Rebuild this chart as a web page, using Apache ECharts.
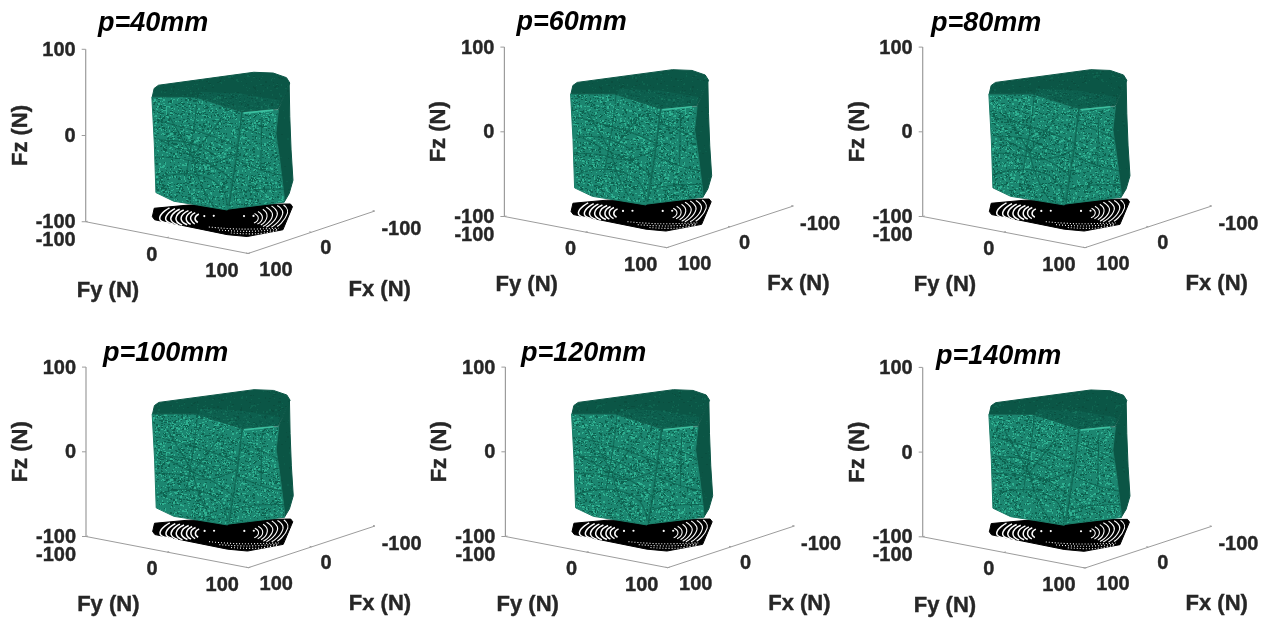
<!DOCTYPE html>
<html><head><meta charset="utf-8">
<style>html,body{margin:0;padding:0;background:#fff;overflow:hidden}#c{width:1273px;height:621px}</style>
<script src="https://cdn.jsdelivr.net/npm/echarts@6/dist/echarts.min.js"></script>
</head><body><div id="c"></div>
<script>
// ---- labels
const panelTitles = ['p=40mm','p=60mm','p=80mm','p=100mm','p=120mm','p=140mm'];
const fzTicks = [100,0,-100];
const fyTicks = [-100,0,100];
const fxTicks = [100,0,-100];

// ---- surface, force values in N
const FACE_LEFT_FX = 75;   // left face lies near Fx = 75
const leftFace = [[-38,50],[16,60],[73,53],[55,-64],[18,-65],[-11,-66],[-33,-60],[-35,-3]]; // [Fy,Fz]
const FACE_RIGHT_FY = 75;  // right faces lie near Fy = 75
const rightFace = [[78,54],[20,42],[24,16],[18,-16],[11,-60],[11,-67],[101,-53]]; // [Fx,Fz]
const sideFace = [[20,42],[7,62],[3,69],[2,30],[0,-9],[-3,-45],[3,-59],[11,-67],[11,-60],[18,-16],[24,16]]; // [Fx,Fz]
const FACE_TOP_FZ = 53;
const topFace = [[82,-32],[57,2],[74,72],[45,94],[-16,57],[-39,43],[-53,28],[-59,7],[-50,-10],[44,-54],[56,-50]]; // [Fx,Fy]
const topFrontBand = [[60,7],[74,72],[45,94],[18,75],[21,29],[39,-6]]; // [Fx,Fy]
const leftVeins = [
  [[-33,-45],[-11,-35],[18,-30],[46,-38],[55,-59]],
  [[-34,-19],[-2,-15],[30,-15],[66,3]],
  [[-31,24],[-2,22],[38,18],[68,11]],
  [[18,59],[14,25],[8,-11],[4,-35]],
  [[-27,2],[10,5],[42,-4]],
  [[-31,3],[12,-10]],
  [[12,-10],[42,-18],[65,-31]],
  [[-19,35],[12,-10]],
  [[49,43],[12,-10]],
  [[12,-10],[22,-39],[38,-63]]
];
const frontCrease = [[73,53],[68,11],[57,-60]]; // [Fy,Fz]
const rightVeins = [
  [[87,1],[49,-20],[14,-35]],
  [[92,-38],[59,-41],[11,-52]],
  [[78,37],[33,12],[20,3]],
  [[46,41],[48,-21]]
];
const rightStrip = [[75,52],[28,44]];

// ---- projection on the floor Fz = -100, [Fx,Fy]
const floorOutline = [[46,-60],[20,-78],[-9,-59],[-72,18],[-65,26],[9,72],[50,60],[56,40],[54,-51]];
const floorRingsLeft = [
  [[10,-67],[46,-51],[56,-33]],
  [[9,-61],[43,-46],[56,-27]],
  [[8,-56],[40,-42],[56,-21]],
  [[8,-51],[37,-38],[54,-17]],
  [[7,-46],[34,-34],[50,-14]],
  [[8,-41],[31,-30],[47,-12]],
  [[9,-36],[28,-27],[43,-10]],
  [[11,-30],[26,-23],[37,-11]]
];
const floorRingsRight = [
  [[-65,15],[-43,37],[3,60]],
  [[-60,11],[-38,35],[8,57]],
  [[-55,8],[-32,33],[11,53]],
  [[-48,7],[-27,31],[11,49]],
  [[-40,9],[-21,29],[8,44]],
  [[-31,10],[-15,28],[7,39]],
  [[-23,12],[-11,26],[6,34]]
];
const floorDots = [[14,-21],[8,-14],[-9,10],[-15,17]];
const floorDotted = [
  [[44,8],[32,37],[7,65]],
  [[47,23],[34,49],[11,67]],
  [[49,39],[36,61],[15,69]]
];

// ---- panel placement (pixel anchor of the Fx=100,Fy=100 corner)
const panelCornerX = [248,666.7,1085,248.3,667.7,1085];
const panelCornerY = [253.5,247.7,247.7,567.7,567.7,568];
const panelScaleY = [1.018,1,1,1,1,1];
const titleLeft = [98,516.5,931,103,521,936];
const titleTop = [10,9,10,340,340,343];

const TICK_FONT = 'bold 20px "Liberation Sans",Arial,sans-serif';
const NAME_FONT = 'bold 22px "Liberation Sans",Arial,sans-serif';
const INK = '#262626', AXIS = '#9c9c9c';

function project(p){
  const a=(100-p[0])/200, b=(100-p[1])/200, c=(p[2]+100)/200;
  return [126.7*a-162.3*b, 41.7*a+31.2*b+169.4*c];
}

// speckled mesh fill: a fixed low-discrepancy dot tile, only a surface texture
function makeTile(base, light, dark, nLight, nDark){
  const S=173, raw=document.createElement('canvas'); raw.width=raw.height=S;
  const g=raw.getContext('2d'); g.fillStyle=base; g.fillRect(0,0,S,S);
  const P=0.7548776662, Q=0.5698402910;
  g.fillStyle=dark;
  for(let i=1;i<=nDark;i++){ g.fillRect(Math.floor(((i*P+i*i*0.000091)%1)*S),Math.floor(((i*Q+i*i*0.000037)%1)*S),1+(i%2),1+(i%5===0?1:0)); }
  g.fillStyle=light;
  for(let i=1;i<=nLight;i++){ g.fillRect(Math.floor(((i*Q+.31)%1)*S),Math.floor(((i*i*0.000173+i*P+.17)%1)*S),1+(i%3===0?1:0),1+(i%4===0?1:0)); }
  const cv=document.createElement('canvas'); cv.width=cv.height=S;
  const h=cv.getContext('2d'); h.filter='blur(0.55px)'; h.drawImage(raw,0,0);
  return cv;
}
const meshTile = makeTile('#1c8670','#2fb091','#0e6250',2800,3600);
const topTile = makeTile('#0b5646','#0f634f','#0a4e3f',800,800);
const sideTile = makeTile('#0b5545','#0d5d4b','#0a4f40',300,300);

const on = {
  left:f=>[FACE_LEFT_FX,f[0],f[1]],
  right:f=>[f[0],FACE_RIGHT_FY,f[1]],
  top:f=>[f[0],f[1],FACE_TOP_FZ],
  floor:f=>[f[0],f[1],-100]
};

function buildLayers(){
  const L=[];
  const line=(pts,stroke,width,extra)=>L.push(Object.assign({kind:'line',pts,stroke,width},extra||{}));
  const poly=(pts,fill,stroke,opacity)=>L.push({kind:'poly',pts,fill,stroke,opacity});
  // box axes
  line([[100,-100,100],[100,-100,-100]],AXIS,1.2);
  line([[100,-100,-100],[100,100,-100]],AXIS,1);
  line([[100,100,-100],[-100,100,-100]],AXIS,1);
  fzTicks.forEach(v=>L.push({kind:'tick',pt:[100,-100,v],d:[-4,0]}));
  fyTicks.forEach(v=>L.push({kind:'tick',pt:[100,v,-100],d:[2,-0.5]}));
  fxTicks.forEach(v=>L.push({kind:'tick',pt:[v,100,-100],d:[-2,-0.5]}));
  // floor
  poly(floorOutline.map(on.floor),'#000','#000');
  floorRingsLeft.forEach(r=>line(r.map(on.floor),'#fff',1.5,{smooth:.6}));
  floorRingsRight.forEach(r=>line(r.map(on.floor),'#fff',1.1,{smooth:.6}));
  floorDots.forEach(d=>L.push({kind:'dot',pt:on.floor(d)}));
  floorDotted.forEach(r=>line(r.map(on.floor),'#fff',1.1,{dash:[1,2],smooth:.4}));
  // surface
  poly(sideFace.map(on.right),{image:sideTile,repeat:'repeat'},'#0b5545');
  poly(rightFace.map(on.right),{image:meshTile,repeat:'repeat'},'#1a7d68');
  poly(leftFace.map(on.left),{image:meshTile,repeat:'repeat'},'#1a7d68');
  poly(topFace.map(on.top),{image:topTile,repeat:'repeat'},'#0b5646');
  poly(topFrontBand.map(on.top),{image:meshTile,repeat:'repeat'},null,.2);
  leftVeins.forEach(v=>line(v.map(on.left),'#0d5f4d',1.1,{smooth:.4,opacity:.75}));
  rightVeins.forEach(v=>line(v.map(on.right),'#0d5f4d',1.1,{smooth:.4,opacity:.75}));
  line(frontCrease.map(on.left),'#0d5f4d',1.4,{smooth:.3,opacity:.75});
  line(rightStrip.map(on.right),'#3cc0a0',1.6);
  // tick labels: [pixel offset from its tick]
  fzTicks.forEach(v=>L.push({kind:'text',pt:[100,-100,v],text:String(v),dx:-10,dy:1,align:'right',font:TICK_FONT}));
  const fyDx=[-30,-15,-26], fyDy=[18.5,17.5,17.5];
  fyTicks.forEach((v,i)=>L.push({kind:'text',pt:[100,v,-100],text:String(v),dx:fyDx[i],dy:fyDy[i],align:'center',font:TICK_FONT}));
  const fxDx=[28,14.5,26.7], fxDy=[16.5,16.5,18];
  fxTicks.forEach((v,i)=>L.push({kind:'text',pt:[v,100,-100],text:String(v),dx:fxDx[i],dy:fxDy[i],align:'center',font:TICK_FONT}));
  // axis names
  L.push({kind:'text',pt:[100,100,-100],text:'Fy (N)',dx:-140,dy:37.5,align:'center',font:NAME_FONT});
  L.push({kind:'text',pt:[100,100,-100],text:'Fx (N)',dx:131.7,dy:36,align:'center',font:NAME_FONT});
  L.push({kind:'text',pt:[100,-100,0],text:'Fz (N)',dx:-65,dy:0,align:'center',font:NAME_FONT,rotate:Math.PI/2});
  return L;
}
const layers = buildLayers();

function renderItem(params, api){
  const l=layers[params.dataIndex];
  const c=p=>api.coord(project(p));
  if(l.kind==='line'){
    return {type:'polyline',shape:{points:l.pts.map(c),smooth:l.smooth||0},
      style:{fill:null,stroke:l.stroke,lineWidth:l.width,lineDash:l.dash||null,opacity:l.opacity==null?1:l.opacity}};
  }
  if(l.kind==='poly'){
    return {type:'polygon',shape:{points:l.pts.map(c)},style:{fill:l.fill,stroke:l.stroke,lineWidth:1,lineJoin:'round',opacity:l.opacity==null?1:l.opacity}};
  }
  if(l.kind==='tick'){
    const s=c(l.pt);
    return {type:'line',shape:{x1:s[0],y1:s[1],x2:s[0]+l.d[0],y2:s[1]+l.d[1]},style:{stroke:AXIS,lineWidth:1}};
  }
  if(l.kind==='dot'){
    const s=c(l.pt);
    return {type:'circle',shape:{cx:s[0],cy:s[1],r:1.1},style:{fill:'#fff'}};
  }
  const s=c(l.pt);
  return {type:'text',x:s[0]+l.dx,y:s[1]+l.dy,rotation:l.rotate||0,
    style:{text:l.text,font:l.font,fill:INK,stroke:INK,lineWidth:.4,align:l.align,verticalAlign:'middle'}};
}

const grids=[],xAxes=[],yAxes=[],series=[],titles=[];
panelTitles.forEach((t,i)=>{
  const s=panelScaleY[i];
  grids.push({left:panelCornerX[i]-170,top:panelCornerY[i]-210*s,width:320,height:215*s,show:false});
  xAxes.push({type:'value',gridIndex:i,min:-170,max:150,show:false});
  yAxes.push({type:'value',gridIndex:i,min:-5,max:210,show:false});
  series.push({type:'custom',coordinateSystem:'cartesian2d',xAxisIndex:i,yAxisIndex:i,silent:true,
    renderItem,data:layers.map((_,k)=>[k,0]),encode:{x:-1,y:-1},animation:false});
  titles.push({text:t,left:titleLeft[i],top:titleTop[i],padding:0,
    textStyle:{fontFamily:'"Liberation Sans",Arial,sans-serif',fontSize:27,fontWeight:'bold',fontStyle:'italic',color:'#000'}});
});
const chart=echarts.init(document.getElementById('c'),null,{renderer:'canvas'});
chart.setOption({animation:false,backgroundColor:'#fff',title:titles,grid:grids,xAxis:xAxes,yAxis:yAxes,series});
</script></body></html>
